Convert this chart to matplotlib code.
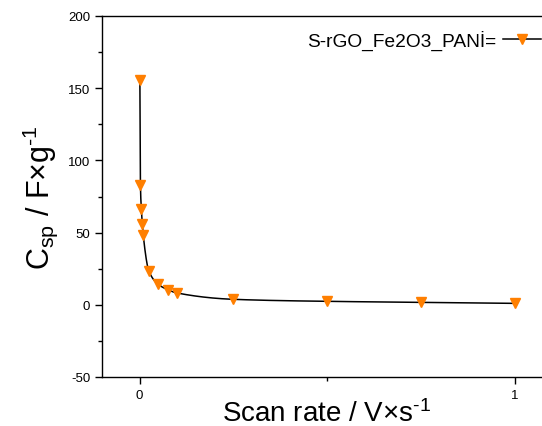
import numpy as np
import matplotlib
matplotlib.use("Agg")
import matplotlib.pyplot as plt
from matplotlib.ticker import MultipleLocator

plt.rcParams['font.family'] = ['Liberation Sans', 'DejaVu Sans']
plt.rcParams['axes.unicode_minus'] = False
plt.rcParams['mathtext.fontset'] = 'custom'
plt.rcParams['mathtext.rm'] = 'Liberation Sans'
plt.rcParams['mathtext.it'] = 'Liberation Sans'
plt.rcParams['mathtext.default'] = 'regular'

scan_rate = [0.001, 0.0025, 0.005, 0.0075, 0.01, 0.025, 0.05, 0.075, 0.1, 0.25, 0.5, 0.75, 1.0]
csp = [156, 83, 66, 56, 48, 23.4, 14.2, 10.5, 8.2, 3.8, 2.4, 1.7, 1.0]
series_label = "S-rGO_Fe2O3_PANİ="


def pchip(x, y, xs):
    x = np.asarray(x, float); y = np.asarray(y, float)
    h = np.diff(x); d = np.diff(y) / h
    m = np.zeros_like(y)
    for k in range(1, len(x) - 1):
        if d[k - 1] * d[k] > 0:
            w1 = 2 * h[k] + h[k - 1]; w2 = h[k] + 2 * h[k - 1]
            m[k] = (w1 + w2) / (w1 / d[k - 1] + w2 / d[k])
    m[0] = d[0]; m[-1] = d[-1]
    idx = np.clip(np.searchsorted(x, xs) - 1, 0, len(x) - 2)
    t = (xs - x[idx]) / h[idx]
    h00 = 2 * t**3 - 3 * t**2 + 1; h10 = t**3 - 2 * t**2 + t
    h01 = -2 * t**3 + 3 * t**2; h11 = t**3 - t**2
    return h00 * y[idx] + h10 * h[idx] * m[idx] + h01 * y[idx + 1] + h11 * h[idx] * m[idx + 1]


fig = plt.figure(figsize=(5.42, 4.27), dpi=100)
ax = fig.add_axes([102 / 542, 1 - 378 / 427, 450 / 542, 361 / 427])

xs = np.concatenate([np.linspace(scan_rate[0], 0.1, 400), np.linspace(0.1, 1.0, 400)])
ax.plot(xs, pchip(scan_rate, csp, xs), color='black', lw=1.1, zorder=2)
ax.plot(scan_rate, csp, linestyle='none', marker='v', markersize=7.5,
        color='#FF7F00', markeredgecolor='#FF7F00', zorder=3)

handle, = ax.plot([], [], color='black', lw=1.1, marker='v', markersize=7.5,
                  markerfacecolor='#FF7F00', markeredgecolor='#FF7F00')

ax.set_xlim(-0.1, 1.1)
ax.set_ylim(-50, 200)
ax.xaxis.set_major_locator(MultipleLocator(1))
ax.xaxis.set_minor_locator(MultipleLocator(0.5))
ax.yaxis.set_major_locator(MultipleLocator(50))
ax.yaxis.set_minor_locator(MultipleLocator(25))
ax.tick_params(which='both', direction='out', top=False, right=False, labelsize=9.5, width=1)
ax.tick_params(which='major', length=5)
ax.tick_params(which='minor', length=3)
for s in ax.spines.values():
    s.set_linewidth(1)

ax.set_xlabel("Scan rate / V×s$^{\\text{-1}}$", fontsize=20, labelpad=-1)
ax.set_ylabel("C$_{sp}$ / F×g$^{\\text{-1}}$", fontsize=22, labelpad=6)

fig.legend([handle], [series_label], loc='center right', bbox_to_anchor=(0.998, 1 - 41 / 427),
           frameon=False, markerfirst=False, fontsize=13.8, handlelength=2.0,
           handletextpad=0.3, borderaxespad=0, borderpad=0)

fig.savefig("out.png", dpi=100)
